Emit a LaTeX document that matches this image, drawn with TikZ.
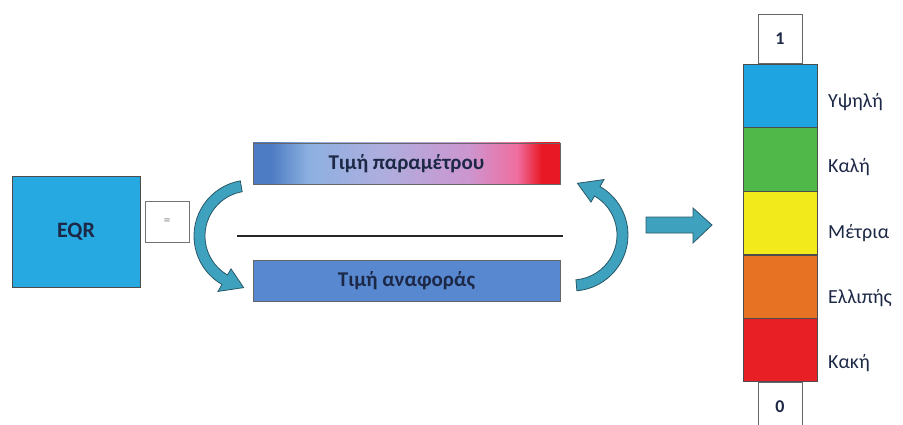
\documentclass[tikz,border=0pt]{standalone}
\usepackage{fontspec}
\setmainfont{Carlito}
\usepackage{tikz}
\usetikzlibrary{positioning,calc}
\definecolor{eqrCol}{RGB}{38,168,224}
\definecolor{barCol}{RGB}{88,136,208}
\definecolor{txtCol}{RGB}{28,40,70}
\definecolor{arrCol}{RGB}{62,162,190}
\definecolor{arrEdge}{RGB}{40,88,104}
\definecolor{hiCol}{RGB}{30,165,225}
\definecolor{goodCol}{RGB}{80,184,72}
\definecolor{midCol}{RGB}{242,234,26}
\definecolor{lowCol}{RGB}{232,114,36}
\definecolor{badCol}{RGB}{232,32,38}
\definecolor{shA}{RGB}{78,124,196}
\definecolor{shB}{RGB}{140,176,224}
\definecolor{shC}{RGB}{174,174,222}
\definecolor{shD}{RGB}{204,150,208}
\definecolor{shE}{RGB}{240,110,160}
\definecolor{shF}{RGB}{232,24,36}
\pgfdeclarehorizontalshading{paramShade}{100bp}{color(0bp)=(shA); color(25bp)=(shA);
  color(28bp)=(shA); color(34bp)=(shB); color(46bp)=(shC); color(60bp)=(shD);
  color(68bp)=(shE); color(72bp)=(shF); color(75bp)=(shF); color(100bp)=(shF)}
\tikzset{
  eqrbox/.style={draw=black!70, fill=eqrCol, minimum width=128pt, minimum height=111pt,
                 inner sep=0pt, font=\fontsize{22}{24}\selectfont\bfseries, text=txtCol},
  signbox/.style={draw=black!55, fill=white, minimum width=44pt, minimum height=41pt,
                  inner sep=0pt, font=\fontsize{13}{15}\selectfont, text=black!50},
  bar/.style={draw=black!60, minimum width=307pt, minimum height=41pt, inner sep=0pt,
              font=\fontsize{21}{24}\selectfont\bfseries, text=txtCol},
  seg/.style={draw=black!70, minimum width=74pt, minimum height=63.2pt, inner sep=0pt},
  endbox/.style={draw=black!60, fill=white, minimum width=44pt, inner sep=0pt,
                 font=\fontsize{18}{20}\selectfont\bfseries, text=txtCol},
  numtxt/.style={inner sep=0pt, font=\fontsize{18}{20}\selectfont\bfseries, text=txtCol},
  lvl/.style={anchor=west, inner sep=0pt, font=\fontsize{20}{22}\selectfont, text=txtCol},
  blockarr/.style={fill=arrCol, draw=arrEdge, line width=0.8pt},
}
\begin{document}
\begin{tikzpicture}[x=1pt, y=1pt]
  \useasboundingbox (0,0) rectangle (903,424);
  % left part
  \node[eqrbox] (eqr) at (76,192.5) {EQR};
  \node[signbox] (sign) at (167,202.5) {=};
  % fraction
  \node[bar, shading=paramShade] (param) at (406.5,260.5) {Τιμή παραμέτρου};
  \node[bar, fill=barCol] (ref) at (406.5,143.5) {Τιμή αναφοράς};
  \coordinate (lineL) at (237,188);
  \coordinate (lineR) at (563,188);
  \draw[line width=2.4pt, black!85] (lineL) -- (lineR);
  % curved arrows
  \coordinate (leftC) at (250,188);
  \coordinate (rightC) at (572,189);
  \begin{scope}[shift={(leftC)}]
    \draw[blockarr] (100:56) arc[start angle=100, end angle=240, radius=56]
      -- (240:64) -- (263:52) -- (240:38) -- (240:45)
      arc[start angle=240, end angle=100, radius=45] -- cycle;
  \end{scope}
  \begin{scope}[shift={(rightC)}]
    \draw[blockarr] (-85:56) arc[start angle=-85, end angle=60, radius=56]
      -- (60:64) -- (84:52) -- (60:38) -- (60:45)
      arc[start angle=60, end angle=-85, radius=45] -- cycle;
  \end{scope}
  % arrow to the scale
  \draw[blockarr] (646,207) -- (693,207) -- (693,216) -- (712,199)
    -- (693,181) -- (693,191) -- (646,191) -- cycle;
  % scale
  \node[seg, fill=hiCol]   (hi)   at (780,328.4) {};
  \node[seg, fill=goodCol] (good) [below=0pt of hi] {};
  \node[seg, fill=midCol]  (mid)  [below=0pt of good] {};
  \node[seg, fill=lowCol]  (low)  [below=0pt of mid] {};
  \node[seg, fill=badCol]  (bad)  [below=0pt of low] {};
  \node[endbox, minimum height=49pt, anchor=south] (one) at (hi.north) {1};
  \node[endbox, minimum height=47pt, anchor=north] (zero) at (bad.south) {};
  \node[numtxt] (zeroTxt) at ([yshift=-25pt]zero.north) {0};
  \node[lvl] at (828,322) {Υψηλή};
  \node[lvl] at (828,257) {Καλή};
  \node[lvl] at (828,191) {Μέτρια};
  \node[lvl] at (828,126) {Ελλιπής};
  \node[lvl] at (828,61)  {Κακή};
\end{tikzpicture}
\end{document}
